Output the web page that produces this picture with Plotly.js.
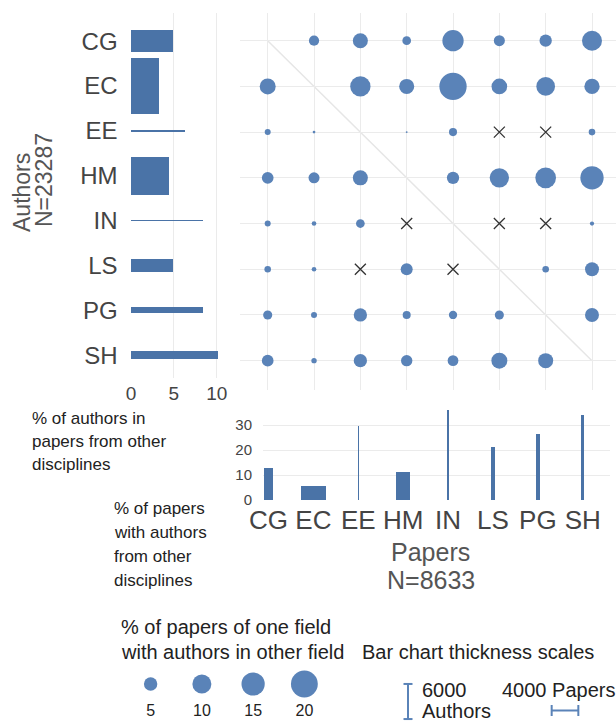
<!DOCTYPE html>
<html><head><meta charset="utf-8">
<script src="https://cdn.plot.ly/plotly-3.0.1.min.js"></script>
<style>html,body{margin:0;padding:0;background:#fff}#chart{width:616px;height:722px}</style>
</head><body><div id="chart"></div>
<script>
// ---------- DATA ----------
const fields = ['CG', 'EC', 'EE', 'HM', 'IN', 'LS', 'PG', 'SH'];

// Left bar chart (authors): % of authors in papers from other disciplines, and author counts (thickness)
const authorsPctOther = [4.9, 3.3, 6.3, 4.4, 8.4, 4.9, 8.4, 10.1];
const authorsCount    = [3810, 9520, 340, 6550, 260, 2170, 1030, 1420];

// Bottom bar chart (papers): % of papers with authors from other disciplines, and paper counts (thickness)
const papersPctOther = [13.0, 5.8, 29.6, 11.4, 36.0, 21.3, 26.5, 34.0];
const papersCount    = [1400, 3650, 200, 2100, 200, 550, 500, 500];

// Matrix: row = authors' field, column = papers' field; % of papers; 0 = none (x), null = diagonal
const cgAuthors = [null, 2.9, 6.3, 2.1, 12.6, 3.4, 4.2, 11.1];
const ecAuthors = [7.1, null, 11.5, 6.3, 20.7, 6.8, 9.7, 6.5];
const eeAuthors = [1.0, 0.2, null, 0.1, 1.8, 0, 0, 1.2];
const hmAuthors = [3.8, 3.4, 6.3, null, 4.2, 10.4, 11.9, 15.1];
const inAuthors = [1.0, 0.6, 2.1, 0, null, 0, 0, 0.5];
const lsAuthors = [1.2, 0.6, 0, 4.0, 0, null, 1.2, 5.4];
const pgAuthors = [2.3, 1.0, 4.9, 1.8, 1.9, 2.3, null, 5.4];
const shAuthors = [3.8, 0.8, 4.9, 3.6, 3.2, 7.1, 6.3, null];
const matrixRows = [cgAuthors, ecAuthors, eeAuthors, hmAuthors, inAuthors, lsAuthors, pgAuthors, shAuthors];

// Legends
const sizeLegendValues = [5, 10, 15, 20];
const authorsScaleValue = 6000;
const papersScaleValue = 4000;

// ---------- GEOMETRY / STYLE ----------
const W = 616, H = 722;
const fx = p => p / W;
const fy = p => 1 - p / H;
const FONT = 'Liberation Sans, Arial, Helvetica, sans-serif';
const BAR = '#4a73a7';
const DOT = '#5a83b8';
const GRID = '#ebebeb';
const AUTHORS_PER_PX = 171;
const PAPERS_PER_PX = 150;

// axis boxes (px)
const L = {x: [130.6, 228], y: [13, 378], xr: [-0.05, 11.32], yr: [7.508, -0.629]};
const M = {x: [240, 616], y: [13, 390], xr: [-0.598, 7.518], yr: [7.642, -0.606]};
const B = {x: [263, 610], y: [405, 500.7], xr: [-0.1225, 7.606], yr: [-0.2, 37.98]};
const G = {x: [125, 330], y: [674, 694], xr: [-0.5, 3.5], yr: [-1, 1]};

const pxPerUnit = (box, key, rng) => Math.abs(box[key][1] - box[key][0]) / Math.abs(rng[1] - rng[0]);
const leftRowPx = pxPerUnit(L, 'y', L.yr);
const bottomColPx = pxPerUnit(B, 'x', B.xr);

const idx = fields.map((_, i) => i);

// ---------- TRACES ----------
const traces = [];

traces.push({
  type: 'bar', orientation: 'h', xaxis: 'x', yaxis: 'y',
  x: authorsPctOther, y: idx,
  width: authorsCount.map(c => c / AUTHORS_PER_PX / leftRowPx),
  marker: {color: BAR, line: {width: 0}},
  hoverinfo: 'skip'
});

traces.push({
  type: 'bar', xaxis: 'x3', yaxis: 'y3',
  x: idx, y: papersPctOther,
  width: papersCount.map(c => c / PAPERS_PER_PX / bottomColPx),
  marker: {color: BAR, line: {width: 0}},
  hoverinfo: 'skip'
});

// matrix
const dx = [], dy = [], ds = [], xx = [], xy = [];
matrixRows.forEach((row, r) => {
  row.forEach((v, c) => {
    if (v === null) return;
    if (v === 0) { xx.push(c); xy.push(r); }
    else { dx.push(c); dy.push(r); ds.push(v); }
  });
});
const SIZEREF = 1 / 18;
traces.push({
  type: 'scatter', mode: 'markers', xaxis: 'x2', yaxis: 'y2', cliponaxis: false,
  x: dx, y: dy,
  marker: {color: DOT, opacity: 1, size: ds, sizemode: 'area', sizeref: SIZEREF, line: {width: 0}},
  hoverinfo: 'skip'
});
traces.push({
  type: 'scatter', mode: 'markers', xaxis: 'x2', yaxis: 'y2',
  x: xx, y: xy,
  marker: {symbol: 'x-thin', size: 11, opacity: 1, color: '#333', line: {width: 1.3, color: '#333'}},
  hoverinfo: 'skip'
});

// size legend
traces.push({
  type: 'scatter', mode: 'markers', xaxis: 'x4', yaxis: 'y4', cliponaxis: false,
  x: sizeLegendValues.map((_, i) => i), y: sizeLegendValues.map(() => 0),
  marker: {color: DOT, opacity: 1, size: sizeLegendValues, sizemode: 'area', sizeref: SIZEREF, line: {width: 0}},
  hoverinfo: 'skip'
});

// ---------- LAYOUT ----------
const dom = (box, k) => k === 'x' ? [fx(box.x[0]), fx(box.x[1])] : [fy(box.y[1]), fy(box.y[0])];
const tickFont = (s, c) => ({family: FONT, size: s, color: c || '#444'});

const layout = {
  width: W, height: H,
  margin: {l: 0, r: 0, t: 0, b: 0},
  paper_bgcolor: '#fff', plot_bgcolor: 'rgba(0,0,0,0)',
  showlegend: false, bargap: 0,
  font: {family: FONT},
  xaxis: {domain: dom(L, 'x'), anchor: 'y', range: L.xr, tickvals: [0, 5, 10], showgrid: true, gridcolor: GRID,
          zeroline: false, showline: false, ticks: '', tickfont: tickFont(19), ticklabelstandoff: 2, fixedrange: true},
  yaxis: {domain: dom(L, 'y'), anchor: 'x', range: L.yr, tickvals: idx, ticktext: fields, showgrid: false,
          zeroline: false, showline: false, ticks: '', tickfont: tickFont(24), ticklabelstandoff: 12},
  xaxis2: {domain: dom(M, 'x'), anchor: 'y2', range: M.xr, tickvals: idx, showticklabels: false, showgrid: true,
           gridcolor: GRID, zeroline: false, showline: false, ticks: ''},
  yaxis2: {domain: dom(M, 'y'), anchor: 'x2', range: M.yr, tickvals: idx, showticklabels: false, showgrid: true,
           gridcolor: GRID, zeroline: false, showline: false, ticks: ''},
  xaxis3: {domain: dom(B, 'x'), anchor: 'y3', range: B.xr, tickvals: idx, ticktext: fields, showgrid: false,
           zeroline: false, showline: false, ticks: '', tickfont: tickFont(26), ticklabelstandoff: 1},
  yaxis3: {domain: dom(B, 'y'), anchor: 'x3', range: B.yr, tickvals: [0, 10, 20, 30], showgrid: true, gridcolor: GRID,
           zeroline: false, showline: false, ticks: '', tickfont: tickFont(15), ticklabelstandoff: 10},
  xaxis4: {domain: dom(G, 'x'), anchor: 'y4', range: G.xr, tickvals: sizeLegendValues.map((_, i) => i),
           ticktext: sizeLegendValues.map(String), showgrid: false, zeroline: false, showline: false, ticks: '',
           tickfont: tickFont(16, '#222'), ticklabelstandoff: 5},
  yaxis4: {domain: dom(G, 'y'), anchor: 'x4', range: G.yr, visible: false},
  shapes: [
    // diagonal of the matrix
    {type: 'line', xref: 'x2', yref: 'y2', x0: 0, y0: 0, x1: fields.length - 1, y1: fields.length - 1,
     line: {color: '#e6e6e6', width: 1.5}, layer: 'below'}
  ],
  annotations: []
};

const ann = (text, x, y, size, color, xanchor, extra) => Object.assign({
  text: text, xref: 'paper', yref: 'paper', x: fx(x), y: fy(y), showarrow: false,
  xanchor: xanchor || 'left', yanchor: 'middle', font: {family: FONT, size: size, color: color || '#222'}
}, extra || {});

const A = layout.annotations;
A.push(ann('Authors', 22, 193, 23, '#555', 'center', {textangle: -90}));
A.push(ann('N=23287', 44, 180, 23, '#555', 'center', {textangle: -90}));
['% of authors in', 'papers from other', 'disciplines'].forEach((t, i) => A.push(ann(t, 30, 418 + i * 23.5, 17)));
['% of papers', 'with authors', 'from other', 'disciplines'].forEach((t, i) => A.push(ann(t, 112, 508 + i * 24, 17)));
A.push(ann('Papers', 430, 552, 25, '#555', 'center'));
A.push(ann('N=8633', 431, 580, 25, '#555', 'center'));
A.push(ann('% of papers of one field', 119, 627, 20));
A.push(ann('with authors in other field', 119, 652, 20));
A.push(ann('Bar chart thickness scales', 360, 652, 20));
A.push(ann('6000', 420, 690, 20));
A.push(ann('Authors', 420, 711, 20));
A.push(ann('4000 Papers', 500, 690, 20));

// thickness scale bars (lengths from the same px scales as the bars)
const iLen = authorsScaleValue / AUTHORS_PER_PX;
const iCx = 408, iCy = 701.5;
const hLen = papersScaleValue / PAPERS_PER_PX;
const hCx = 565, hCy = 710.5;
const seg = (x0, y0, x1, y1) => ({type: 'line', xref: 'paper', yref: 'paper', x0: fx(x0), y0: fy(y0), x1: fx(x1), y1: fy(y1),
                                  line: {color: DOT, width: 2}});
layout.shapes.push(seg(iCx, iCy - iLen / 2, iCx, iCy + iLen / 2));
layout.shapes.push(seg(iCx - 4.5, iCy - iLen / 2, iCx + 4.5, iCy - iLen / 2));
layout.shapes.push(seg(iCx - 4.5, iCy + iLen / 2, iCx + 4.5, iCy + iLen / 2));
layout.shapes.push(seg(hCx - hLen / 2, hCy, hCx + hLen / 2, hCy));
layout.shapes.push(seg(hCx - hLen / 2, hCy - 5.5, hCx - hLen / 2, hCy + 5.5));
layout.shapes.push(seg(hCx + hLen / 2, hCy - 5.5, hCx + hLen / 2, hCy + 5.5));

Plotly.newPlot('chart', traces, layout, {displayModeBar: false, staticPlot: true});
</script>
</body></html>
